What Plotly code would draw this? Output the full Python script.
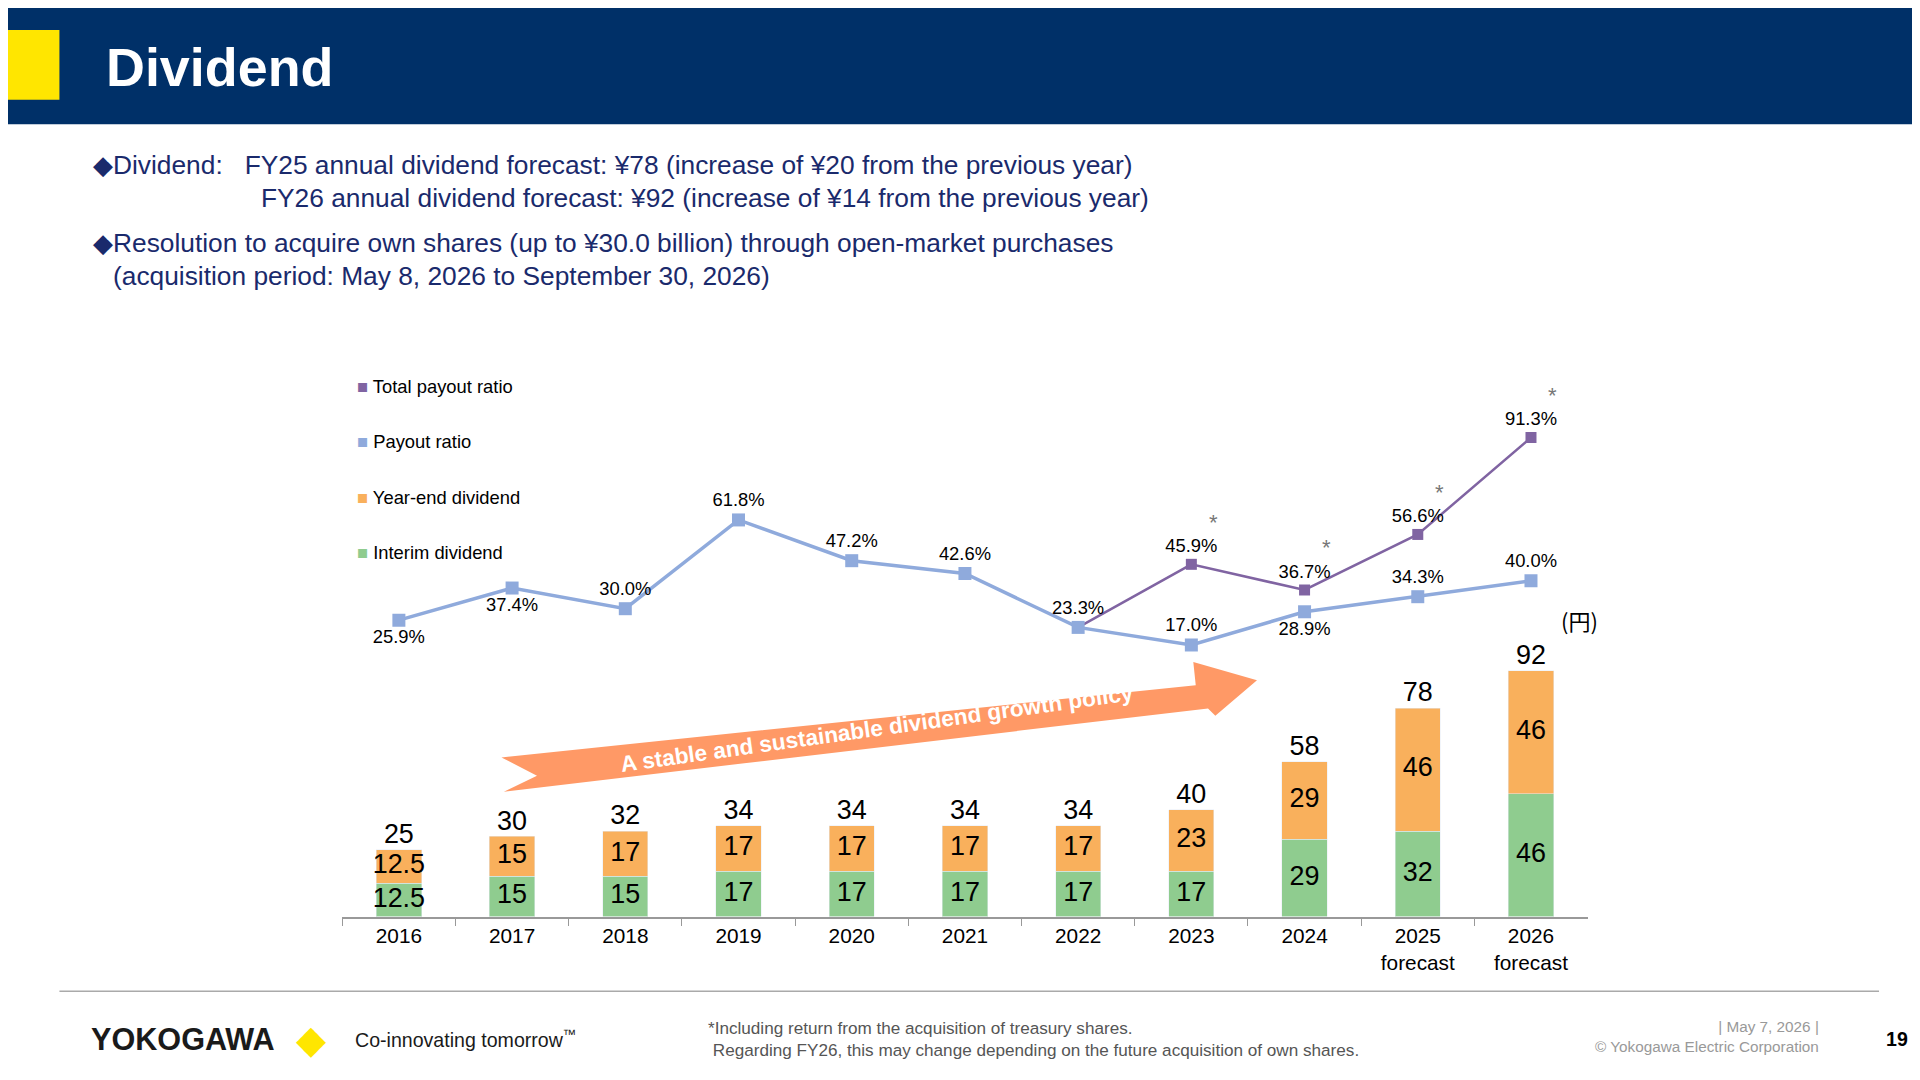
import plotly.graph_objects as go

# ---- data ----
years = ["2016", "2017", "2018", "2019", "2020", "2021", "2022", "2023", "2024",
         "2025<br>forecast", "2026<br>forecast"]
interim = [12.5, 15, 15, 17, 17, 17, 17, 17, 29, 32, 46]
year_end = [12.5, 15, 17, 17, 17, 17, 17, 23, 29, 46, 46]
totals = [25, 30, 32, 34, 34, 34, 34, 40, 58, 78, 92]
payout = [25.9, 37.4, 30.0, 61.8, 47.2, 42.6, 23.3, 17.0, 28.9, 34.3, 40.0]
payout_pos = ["bottom center", "bottom center", "top center", "top center", "top center",
              "top center", "top center", "top center", "bottom center", "top center", "top center"]
total_years = years[6:]
total_payout = [23.3, 45.9, 36.7, 56.6, 91.3]

W, H = 1568, 882          # reference units
S = 1920 / W              # scale to output


def px(x):
    return x / W


def py(y):
    return 1 - y / H


NAVY = "#003068"
TXT = "#1A2A6C"
GREEN = "#8FCC8F"
ORANGE = "#F9B05C"
BLUE = "#8FAADC"
PURPLE = "#8064A2"

fig = go.Figure()

fig.add_trace(go.Bar(x=years, y=interim, marker_color=GREEN, width=0.4, name="Interim dividend"))
fig.add_trace(go.Bar(x=years, y=year_end, marker_color=ORANGE, width=0.4, name="Year-end dividend"))

# segment labels
fig.add_trace(go.Scatter(x=years, y=[v / 2 for v in interim], mode="text",
                         text=[f"{v:g}" for v in interim], textposition="middle center",
                         textfont=dict(size=22 * S, color="black", family="Arial")))
fig.add_trace(go.Scatter(x=years, y=[a + b / 2 for a, b in zip(interim, year_end)], mode="text",
                         text=[f"{v:g}" for v in year_end], textposition="middle center",
                         textfont=dict(size=22 * S, color="black", family="Arial")))
fig.add_trace(go.Scatter(x=years, y=totals, mode="text", text=[str(v) for v in totals],
                         textposition="top center",
                         textfont=dict(size=22 * S, color="black", family="Arial")))

fig.add_trace(go.Scatter(x=total_years, y=total_payout, yaxis="y2", mode="lines+markers+text",
                         line=dict(color=PURPLE, width=2.5),
                         marker=dict(symbol="square", size=11, color=PURPLE),
                         text=[""] + [f"{v:.1f}%" for v in total_payout[1:]],
                         textposition="top center",
                         textfont=dict(size=15 * S, color="black", family="Arial")))
fig.add_trace(go.Scatter(x=years, y=payout, yaxis="y2", mode="lines+markers+text",
                         line=dict(color=BLUE, width=3.5),
                         marker=dict(symbol="square", size=13, color=BLUE),
                         text=[f"{v:.1f}%" for v in payout], textposition=payout_pos,
                         textfont=dict(size=15 * S, color="black", family="Arial")))

for yr, v in zip(total_years[1:], total_payout[1:]):
    fig.add_annotation(x=years.index(yr), y=v, yref="y2", text="*", showarrow=False, xshift=22, yshift=42,
                       font=dict(size=18 * S, color="#777777", family="Arial"))

y_dom = [py(742), py(300)]
fig.update_layout(
    width=1920, height=1080, margin=dict(l=0, r=0, t=0, b=0),
    plot_bgcolor="white", paper_bgcolor="white", barmode="stack", showlegend=False,
    font=dict(family="Arial"),
    xaxis=dict(type="category", domain=[px(273), px(1290)], range=[-0.5, len(years) - 0.5],
               showline=True, linecolor="#999999",
               linewidth=1.5, ticks="outside", tickson="boundaries", ticklen=8, tickcolor="#999999",
               tickfont=dict(size=17 * S, color="black"), tickangle=0),
    yaxis=dict(domain=y_dom, range=[0, 202.6], visible=False),
    yaxis2=dict(domain=y_dom, range=[-80.3, 113.6], overlaying="y", visible=False),
)

# header
fig.add_shape(type="rect", xref="paper", yref="paper", x0=0, x1=1, y0=py(95), y1=1,
              fillcolor=NAVY, line_width=0, layer="below")
fig.add_shape(type="rect", xref="paper", yref="paper", x0=0, x1=px(42), y0=py(75), y1=py(18),
              fillcolor="#FFE600", line_width=0)
fig.add_annotation(xref="paper", yref="paper", x=px(78), y=py(48), xanchor="left", yanchor="middle",
                   text="<b>Dividend</b>", showarrow=False,
                   font=dict(size=44 * S, color="white", family="Arial"))

bullets = [
    (68, 128, "◆Dividend:   FY25 annual dividend forecast: ¥78 (increase of ¥20 from the previous year)"),
    (205, 155, "FY26 annual dividend forecast: ¥92 (increase of ¥14 from the previous year)"),
    (68, 192, "◆Resolution to acquire own shares (up to ¥30.0 billion) through open-market purchases"),
    (84, 219, "(acquisition period: May 8, 2026 to September 30, 2026)"),
]
for x, y, t in bullets:
    fig.add_annotation(xref="paper", yref="paper", x=px(x), y=py(y), xanchor="left", yanchor="middle",
                       text=t, showarrow=False, font=dict(size=21.5 * S, color=TXT, family="Arial"))

# legend
legend_items = [("Total payout ratio", PURPLE, 309), ("Payout ratio", BLUE, 354),
                ("Year-end dividend", ORANGE, 400), ("Interim dividend", GREEN, 445)]
for name, col, y in legend_items:
    fig.add_annotation(xref="paper", yref="paper", x=px(283), y=py(y), xanchor="left", yanchor="middle",
                       text=f"<span style='color:{col}'>■</span> {name}", showarrow=False,
                       font=dict(size=15 * S, color="black", family="Arial"))

fig.add_annotation(xref="paper", yref="paper", x=px(1283), y=py(500), xanchor="center", yanchor="middle",
                   text="(円)", showarrow=False,
                   font=dict(size=18 * S, color="black", family="Noto Sans CJK JP"))

# growth arrow
pts = [(403, 612), (970, 553), (968, 534), (1020, 549), (986, 578), (980, 572), (405, 640), (432, 627)]
path = "M " + " L ".join(f"{px(x)},{py(y)}" for x, y in pts) + " Z"
fig.add_shape(type="path", xref="paper", yref="paper", path=path, fillcolor="#FF9966", line_width=0,
              layer="below")
fig.add_annotation(xref="paper", yref="paper", x=px(710), y=py(588), xanchor="center", yanchor="middle",
                   text="A stable and sustainable dividend growth policy",
                   showarrow=False, textangle=-8,
                   font=dict(size=18.5 * S, color="#FFFFFF", family="Arial", weight="bold"))

# footer
fig.add_shape(type="line", xref="paper", yref="paper", x0=px(42), x1=px(1528), y0=py(803), y1=py(803),
              line=dict(color="#AAAAAA", width=1.5))
fig.add_annotation(xref="paper", yref="paper", x=px(66), y=py(842), xanchor="left", yanchor="middle",
                   text="<b>YOKOGAWA</b>", showarrow=False,
                   font=dict(size=25 * S, color="#1A1A1A", family="Arial"))
fig.add_annotation(xref="paper", yref="paper", x=px(248), y=py(842), xanchor="center", yanchor="middle",
                   text="◆", showarrow=False, font=dict(size=32 * S, color="#FFE600", family="DejaVu Sans"))
fig.add_annotation(xref="paper", yref="paper", x=px(282), y=py(842), xanchor="left", yanchor="middle",
                   text="Co-innovating tomorrow<sup>™</sup>", showarrow=False,
                   font=dict(size=16 * S, color="#1A1A1A", family="Arial"))
fig.add_annotation(xref="paper", yref="paper", x=px(570), y=py(842), xanchor="left", yanchor="middle",
                   align="left", showarrow=False,
                   text="*Including return from the acquisition of treasury shares.<br>"
                        " Regarding FY26, this may change depending on the future acquisition of own shares.",
                   font=dict(size=14 * S, color="#555555", family="Arial"))
fig.add_annotation(xref="paper", yref="paper", x=px(1481), y=py(840), xanchor="right", yanchor="middle",
                   align="right", showarrow=False,
                   text="| May 7, 2026 |<br>© Yokogawa Electric Corporation",
                   font=dict(size=12.5 * S, color="#999999", family="Arial"))
fig.add_annotation(xref="paper", yref="paper", x=px(1532), y=py(842), xanchor="left", yanchor="middle",
                   text="<b>19</b>", showarrow=False, font=dict(size=16 * S, color="black", family="Arial"))

fig.write_html("out.html")
